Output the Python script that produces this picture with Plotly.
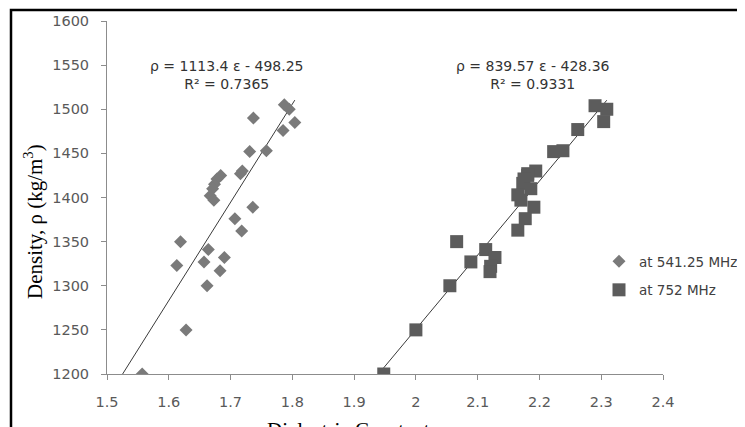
import numpy as np
import plotly.graph_objects as go

# ---- data ----
eps_541 = [1.787, 1.795, 1.737, 1.804, 1.785, 1.731, 1.758, 1.719, 1.716, 1.684,
           1.678, 1.674, 1.671, 1.667, 1.673, 1.736, 1.707, 1.718, 1.619, 1.664,
           1.690, 1.657, 1.613, 1.683, 1.662, 1.628, 1.557]
rho_541 = [1505, 1500, 1490, 1485, 1476, 1452, 1453, 1430, 1427, 1425,
           1421, 1415, 1410, 1402, 1397, 1389, 1376, 1362, 1350, 1341,
           1332, 1327, 1323, 1317, 1300, 1250, 1200]

eps_752 = [2.290, 2.309, 2.304, 2.262, 2.223, 2.238, 2.194, 2.181, 2.181, 2.175,
           2.173, 2.186, 2.165, 2.170, 2.191, 2.177, 2.165, 2.066, 2.113, 2.128,
           2.089, 2.121, 2.120, 2.055, 2.000, 1.948]
rho_752 = [1504, 1500, 1486, 1477, 1452, 1453, 1430, 1427, 1425, 1421,
           1416, 1410, 1403, 1397, 1389, 1376, 1363, 1350, 1341, 1332,
           1327, 1322, 1316, 1300, 1250, 1200]

series_names = ["at 541.25 MHz", "at 752 MHz"]
fit_slope = [1113.4, 839.57]
fit_intercept = [-498.25, -428.36]
fit_labels = ["ρ = 1113.4 ε - 498.25<br>R² = 0.7365",
              "ρ = 839.57 ε - 428.36<br>R² = 0.9331"]

x_tick_vals = [1.5, 1.6, 1.7, 1.8, 1.9, 2.0, 2.1, 2.2, 2.3, 2.4]
x_tick_text = ["1.5", "1.6", "1.7", "1.8", "1.9", "2", "2.1", "2.2", "2.3", "2.4"]
y_tick_vals = [1200, 1250, 1300, 1350, 1400, 1450, 1500, 1550, 1600]

Y_MIN, Y_MAX = 1200, 1600
X_MIN, X_MAX = 1.5, 2.4

fig = go.Figure()

# trend lines (from the axis floor to the largest x of each series)
for m, b, xs in zip(fit_slope, fit_intercept, [eps_541, eps_752]):
    x0 = (Y_MIN - b) / m
    x1 = max(xs)
    lx = np.array([x0, x1])
    fig.add_trace(go.Scatter(x=lx, y=m * lx + b, mode="lines",
                             line=dict(color="#3a3a3a", width=1),
                             showlegend=False, hoverinfo="skip"))

fig.add_trace(go.Scatter(x=eps_541, y=rho_541, mode="markers", name=series_names[0],
                         legendgroup="a",
                         marker=dict(symbol="diamond", size=10, color="#7a7a7a")))
fig.add_trace(go.Scatter(x=eps_752, y=rho_752, mode="markers", name=series_names[1],
                         legendgroup="b",
                         marker=dict(symbol="square", size=13, color="#5c5c5c")))

# page offset of the figure (default body margin)
OFF = 8
W, H = 745 - OFF, 427 - OFF
PL, PR, PT, PB = 107, 663, 21, 374  # plot area in page pixels
L, T = PL - OFF, PT - OFF
R, B = W - (PR - OFF), H - (PB - OFF)
pw, ph = PR - PL, PB - PT

def px(xp):
    return (xp - PL) / pw

def py(yp):
    return (PB - yp) / ph

# equations
for txt, cx in zip(fit_labels, [226, 533]):
    fig.add_annotation(x=px(cx), y=py(56), xref="paper", yref="paper",
                       text=txt, showarrow=False, xanchor="center", yanchor="top",
                       align="center",
                       font=dict(family="DejaVu Sans", size=14, color="#333333"))

# axis titles
fig.add_annotation(x=px(358), y=py(416), xref="paper", yref="paper",
                   text="Dielectric Constant, ε", showarrow=False,
                   xanchor="center", yanchor="top",
                   font=dict(family="Liberation Serif", size=21, color="#000000"))
fig.add_annotation(x=px(34), y=py(222), xref="paper", yref="paper",
                   text="Density, ρ (kg/m<sup>3</sup>)", showarrow=False,
                   xanchor="center", yanchor="middle", textangle=-90,
                   font=dict(family="Liberation Serif", size=21, color="#000000"))

# outer frame (top and left edges visible)
fig.add_shape(type="rect", xref="paper", yref="paper",
              x0=px(11), x1=px(800), y0=py(480), y1=py(10),
              line=dict(color="#000000", width=2.5), layer="above")

axis_common = dict(showgrid=False, zeroline=False, showline=True, automargin=False,
                   linecolor="#8c8c8c", linewidth=1, ticks="outside",
                   ticklen=5, tickcolor="#8c8c8c", mirror=False,
                   tickfont=dict(family="DejaVu Sans", size=14.5, color="#595959"))

fig.update_xaxes(range=[X_MIN, X_MAX], tickvals=x_tick_vals, ticktext=x_tick_text,
                 ticklabelstandoff=10, **axis_common)
fig.update_yaxes(range=[Y_MIN, Y_MAX], tickvals=y_tick_vals,
                 ticklabelstandoff=9, **axis_common)

fig.update_layout(
    width=W, height=H,
    margin=dict(l=L, r=R, t=T, b=B, pad=0, autoexpand=False),
    paper_bgcolor="white", plot_bgcolor="white",
    showlegend=True,
    legend=dict(x=px(599), y=py(246), xanchor="left", yanchor="top",
                bgcolor="rgba(0,0,0,0)", traceorder="grouped", tracegroupgap=8,
                font=dict(family="DejaVu Sans", size=13.5, color="#404040")),
)

fig.write_html("out.html")
